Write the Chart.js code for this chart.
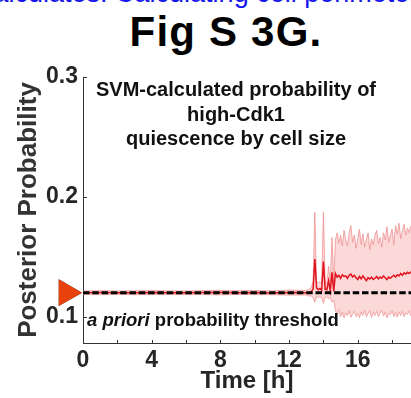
<!DOCTYPE html>
<html>
<head>
<meta charset="utf-8">
<script src="https://cdn.jsdelivr.net/npm/chart.js@4.4.1/dist/chart.umd.min.js"></script>
<style>
  body { margin: 0; background: #fff; overflow: hidden; }
  #wrap { position: relative; width: 411px; height: 398px; overflow: hidden; font-family: "Liberation Sans", Arial, sans-serif; }
  #topline { position: absolute; left: -20px; top: -20px; font-size: 27px; line-height: 27px; color: #1515f0; white-space: nowrap; }
  #fig { position: absolute; left: 0; width: 452px; top: 11px; font-size: 42px; line-height: 42px; font-weight: bold; letter-spacing: 1.2px; text-align: center; color: #000; }
  #box { position: absolute; left: 0; top: 0; width: 411px; height: 398px; }
</style>
</head>
<body>
<div id="wrap">
  <div id="topline">calculates. Calculating cell perimeter</div>
  <div id="fig">Fig S 3G.</div>
  <div id="box"><canvas id="svmChart"></canvas></div>
</div>
<script>
// Waktu (jam) dan nilai probabilitas posterior yang dibaca dari gambar
const times = [0, 1, 2, 3, 4, 5, 6, 7, 8, 9, 10, 11, 12, 13,
  13.1, 13.2, 13.3, 13.4, 13.5, 13.6, 13.7, 13.8, 13.9, 14.0,
  14.1, 14.2, 14.3, 14.4, 14.5, 14.6, 14.7, 14.8, 14.9, 15.0,
  15.1, 15.2, 15.3, 15.4, 15.5, 15.6, 15.7, 15.8, 15.9, 16.0,
  16.1, 16.2, 16.3, 16.4, 16.5, 16.6, 16.7, 16.8, 16.9, 17.0,
  17.1, 17.2, 17.3, 17.4, 17.5, 17.6, 17.7, 17.8, 17.9, 18.0,
  18.1, 18.2, 18.3, 18.4, 18.5, 18.6, 18.7, 18.8, 18.9, 19.0, 19.1];

const meanProb = [0.1200, 0.1201, 0.1199, 0.1200, 0.1202, 0.1200, 0.1199, 0.1201, 0.1203, 0.1200, 0.1201, 0.1198, 0.1202, 0.1199,
  0.1197, 0.1203, 0.1210, 0.1230, 0.1480, 0.1240, 0.1225, 0.1235, 0.1220, 0.1460,
  0.1230, 0.1225, 0.1300, 0.1215, 0.1370, 0.1210, 0.1360, 0.1330, 0.1345, 0.1320,
  0.1350, 0.1335, 0.1340, 0.1320, 0.1345, 0.1355, 0.1330, 0.1345, 0.1325, 0.1310,
  0.1335, 0.1315, 0.1340, 0.1320, 0.1300, 0.1325, 0.1315, 0.1330, 0.1310, 0.1320,
  0.1335, 0.1315, 0.1330, 0.1320, 0.1340, 0.1325, 0.1310, 0.1330, 0.1320, 0.1335,
  0.1345, 0.1330, 0.1350, 0.1340, 0.1360, 0.1345, 0.1365, 0.1355, 0.1370, 0.1360, 0.1375];

const upperProb = [0.1215, 0.1217, 0.1214, 0.1216, 0.1218, 0.1215, 0.1214, 0.1217, 0.1220, 0.1216, 0.1218, 0.1215, 0.1222, 0.1218,
  0.1225, 0.1230, 0.1250, 0.1290, 0.1870, 0.1300, 0.1280, 0.1290, 0.1275, 0.1870,
  0.1290, 0.1280, 0.1420, 0.1280, 0.1660, 0.1290, 0.1640, 0.1700, 0.1610, 0.1680,
  0.1590, 0.1720, 0.1640, 0.1590, 0.1700, 0.1760, 0.1620, 0.1680, 0.1570, 0.1650,
  0.1730, 0.1600, 0.1690, 0.1580, 0.1640, 0.1700, 0.1560, 0.1650, 0.1600, 0.1680,
  0.1720, 0.1610, 0.1660, 0.1580, 0.1700, 0.1640, 0.1750, 0.1620, 0.1680, 0.1730,
  0.1600, 0.1760, 0.1690, 0.1780, 0.1650, 0.1720, 0.1770, 0.1680, 0.1740, 0.1700, 0.1760];

const lowerProb = [0.1185, 0.1184, 0.1186, 0.1183, 0.1185, 0.1186, 0.1184, 0.1185, 0.1182, 0.1185, 0.1184, 0.1183, 0.1180, 0.1181,
  0.1172, 0.1175, 0.1170, 0.1160, 0.1120, 0.1170, 0.1160, 0.1165, 0.1160, 0.1110,
  0.1165, 0.1160, 0.1150, 0.1160, 0.1120, 0.1140, 0.1050, 0.1020, 0.1060, 0.1000,
  0.1040, 0.0990, 0.1030, 0.1010, 0.1050, 0.0995, 0.1020, 0.1045, 0.1000, 0.1030,
  0.0990, 0.1040, 0.1010, 0.1055, 0.1000, 0.1025, 0.1050, 0.0995, 0.1035, 0.1010,
  0.1045, 0.1000, 0.1030, 0.1055, 0.1005, 0.1040, 0.0990, 0.1030, 0.1015, 0.1050,
  0.1000, 0.1035, 0.0995, 0.1040, 0.1010, 0.1045, 0.1000, 0.1030, 0.1020, 0.1050, 0.1005];

const thresholdProb = 0.12; // ambang probabilitas a priori
const xTickValues = [0, 2, 4, 6, 8, 10, 12, 14, 16, 18];
const xTickLabels = ['0', '', '4', '', '8', '', '12', '', '16', ''];
const yTickValues = [0.1, 0.2, 0.3];
const yTickLabels = ['0.1', '0.2', '0.3'];
const titleLines = ['SVM-calculated probability of', 'high-Cdk1', 'quiescence by cell size'];

const FONT = '"Liberation Sans", Arial, sans-serif';
const xMax = 19.1;

const toPoints = (vals) => times.map((t, i) => ({ x: t, y: vals[i] }));

// Plugin: teks di dalam panel, penanda segitiga, dan tick ke arah dalam (gaya MATLAB)
const panelExtras = {
  id: 'panelExtras',
  afterDatasetsDraw(chart) {
    const { ctx, chartArea, scales } = chart;
    ctx.save();
    ctx.fillStyle = '#111';
    ctx.textAlign = 'center';
    ctx.textBaseline = 'alphabetic';
    ctx.font = 'bold 20px ' + FONT;
    titleLines.forEach((line, i) => {
      ctx.fillText(line, chartArea.left + 153, chartArea.top + 19 + i * 24.5);
    });

    // label ambang
    const thrY = scales.y.getPixelForValue(thresholdProb);
    ctx.textAlign = 'left';
    let x = chartArea.left + 4;
    ctx.font = 'italic bold 18.5px ' + FONT;
    ctx.fillText('a priori', x, thrY + 33);
    x += ctx.measureText('a priori').width;
    ctx.font = 'bold 18.5px ' + FONT;
    ctx.fillText(' probability threshold', x, thrY + 33);

    // segitiga penanda ambang di luar sumbu y
    const r = 15.5;
    Chart.helpers.drawPoint(ctx, {
      pointStyle: 'triangle', rotation: 90, radius: r, borderWidth: 0
    }, chartArea.left - 1 - r, thrY);
    ctx.fillStyle = '#e8420c';
    ctx.fill();

    // tick ke dalam
    ctx.strokeStyle = '#333';
    ctx.lineWidth = 1;
    ctx.beginPath();
    scales.x.ticks.forEach((t) => {
      const px = Math.round(scales.x.getPixelForValue(t.value)) + 0.5;
      ctx.moveTo(px, chartArea.bottom);
      ctx.lineTo(px, chartArea.bottom - 3);
    });
    scales.y.ticks.forEach((t) => {
      const py = Math.round(scales.y.getPixelForValue(t.value)) + 0.5;
      ctx.moveTo(chartArea.left, py);
      ctx.lineTo(chartArea.left + 4, py);
    });
    ctx.stroke();
    ctx.restore();
  }
};

const ctx = document.getElementById('svmChart').getContext('2d');
new Chart(ctx, {
  type: 'line',
  data: {
    datasets: [
      {
        data: [{ x: 0, y: thresholdProb }, { x: xMax, y: thresholdProb }],
        borderColor: '#000',
        borderWidth: 3,
        borderDash: [6.5, 2.8],
        pointRadius: 0,
        fill: false,
        order: 1,
      },
      {
        data: toPoints(meanProb),
        borderColor: '#e0141e',
        borderWidth: 1.5,
        pointRadius: 0,
        tension: 0,
        fill: false,
        order: 2,
      },
      {
        data: toPoints(upperProb),
        borderColor: 'rgba(238,140,140,0.75)',
        borderWidth: 1,
        backgroundColor: 'rgba(248,160,160,0.4)',
        pointRadius: 0,
        tension: 0,
        fill: '+1',
        order: 3,
      },
      {
        data: toPoints(lowerProb),
        borderColor: 'rgba(238,140,140,0.75)',
        borderWidth: 1,
        pointRadius: 0,
        tension: 0,
        fill: false,
        order: 4,
      },
    ],
  },
  options: {
    responsive: true,
    maintainAspectRatio: false,
    animation: false,
    events: [],
    layout: { padding: { top: 77, right: 0, bottom: 0, left: 0 } },
    plugins: {
      legend: { display: false },
      tooltip: { enabled: false },
    },
    scales: {
      x: {
        type: 'linear',
        min: 0,
        max: xMax,
        afterBuildTicks: (axis) => { axis.ticks = xTickValues.map((v) => ({ value: v })); },
        afterFit: (axis) => { axis.height = 55; axis.paddingRight = 0; axis.paddingLeft = 0; },
        grid: { drawOnChartArea: false, drawTicks: false },
        border: { display: true, color: '#333', width: 1 },
        ticks: {
          autoSkip: false,
          maxRotation: 0,
          padding: 4,
          color: '#262626',
          font: { family: FONT, size: 23, weight: 'bold' },
          callback: (v, i) => xTickLabels[i],
        },
        title: {
          display: true,
          text: 'Time [h]',
          color: '#262626',
          font: { family: FONT, size: 24, weight: 'bold' },
          padding: { top: 0, bottom: 2 },
        },
      },
      y: {
        type: 'linear',
        min: 0.078,
        max: 0.3,
        afterBuildTicks: (axis) => { axis.ticks = yTickValues.map((v) => ({ value: v })); },
        afterFit: (axis) => { axis.width = 83; axis.paddingTop = 0; axis.paddingBottom = 0; },
        grid: { drawOnChartArea: false, drawTicks: false },
        border: { display: true, color: '#333', width: 1 },
        ticks: {
          padding: 5,
          color: '#262626',
          font: { family: FONT, size: 23, weight: 'bold' },
          callback: (v, i) => yTickLabels[i],
        },
        title: {
          display: true,
          text: 'Posterior Probability',
          color: '#333',
          font: { family: FONT, size: 26, weight: 'bold' },
          padding: { top: 13, bottom: 0 },
        },
      },
    },
  },
  plugins: [panelExtras],
});
</script>
</body>
</html>
